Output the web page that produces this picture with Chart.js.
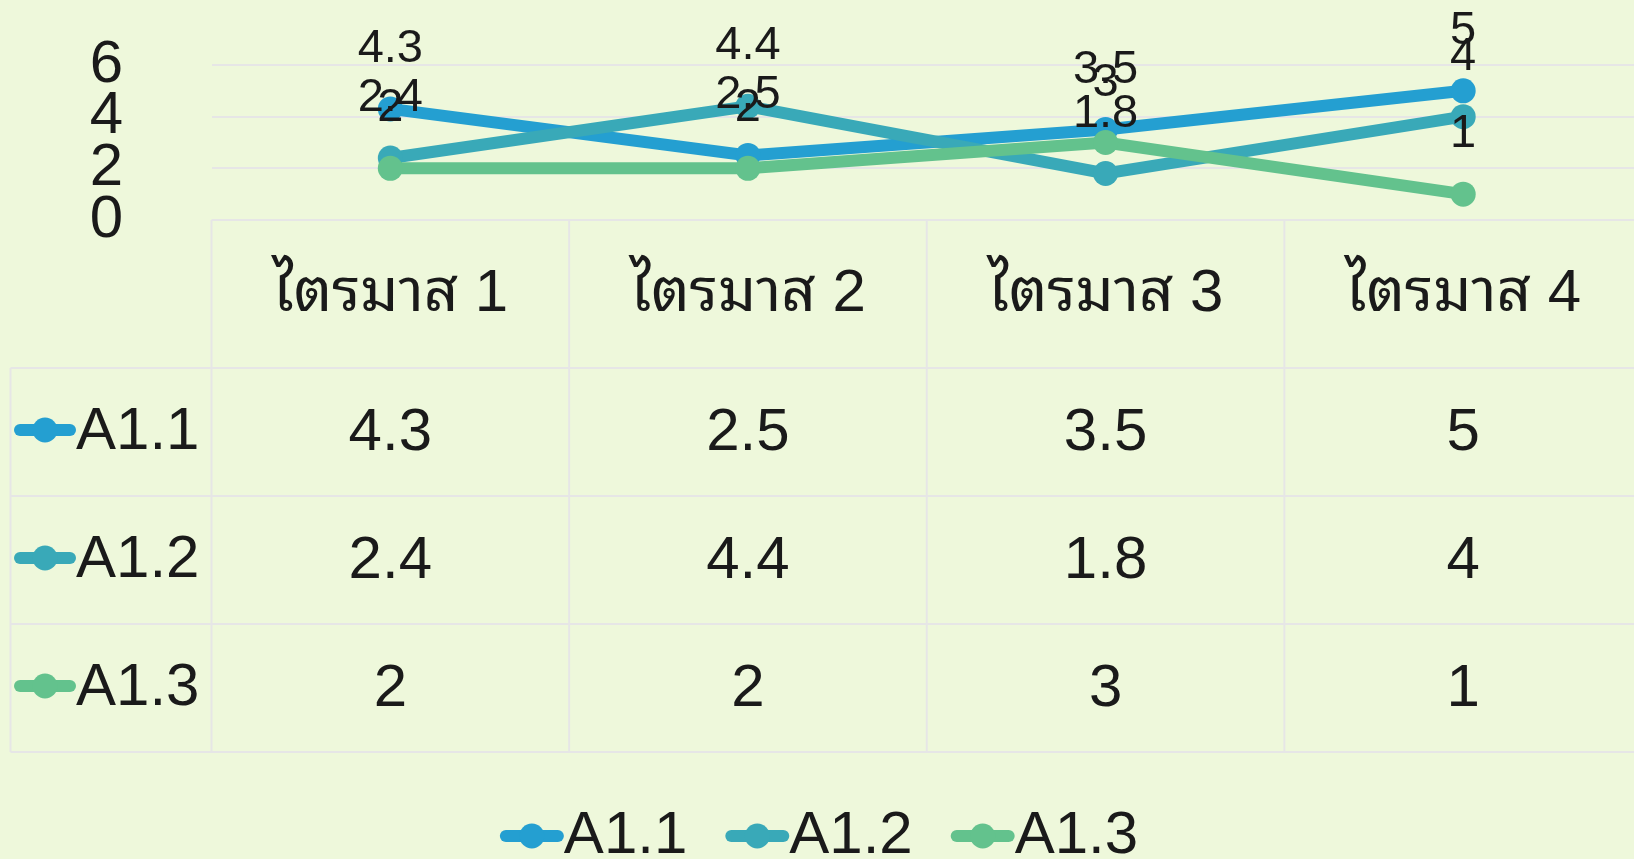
<!DOCTYPE html>
<html>
<head>
<meta charset="utf-8">
<script src="https://cdn.jsdelivr.net/npm/chart.js@4.4.1/dist/chart.umd.min.js"></script>
<style>
  html, body { margin: 0; padding: 0; background: #EEF8DB; overflow: hidden; width: 1634px; height: 859px; }
  #wrap { width: 1643px; height: 859px; position: relative; }
</style>
</head>
<body>
<div id="wrap"><canvas id="c"></canvas></div>
<script>
// ---- data ----
const categories = ['ไตรมาส 1', 'ไตรมาส 2', 'ไตรมาส 3', 'ไตรมาส 4'];
const seriesNames = ['A1.1', 'A1.2', 'A1.3'];
const seriesA11 = [4.3, 2.5, 3.5, 5];
const seriesA12 = [2.4, 4.4, 1.8, 4];
const seriesA13 = [2, 2, 3, 1];
const yTicks = [0, 2, 4, 6];

// ---- styles ----
const colors = ['#249FD1', '#39A9B8', '#63C28D'];
const FONT = '"Liberation Sans", Arial, "Noto Sans Thai Looped", Loma, Garuda, Waree, Umpush, "Tlwg Typo", Norasi, Kinnari, "Noto Sans Thai", "Noto Sans", sans-serif';
const TEXT = '#1a1a1a';
const GRID = '#E6E6E6';
const BG = '#EEF8DB';
const VIEW_W = 1634;

const seriesValues = [seriesA11, seriesA12, seriesA13];

const bgPlugin = {
  id: 'bg',
  beforeDraw(chart) {
    const ctx = chart.ctx;
    ctx.save();
    ctx.fillStyle = BG;
    ctx.fillRect(0, 0, chart.width, chart.height);
    ctx.restore();
  }
};

function drawIcon(ctx, x0, x1, y, color) {
  ctx.save();
  ctx.strokeStyle = color;
  ctx.lineWidth = 12;
  ctx.lineCap = 'round';
  ctx.beginPath();
  ctx.moveTo(x0 + 6, y);
  ctx.lineTo(x1 - 6, y);
  ctx.stroke();
  ctx.fillStyle = color;
  ctx.beginPath();
  ctx.arc((x0 + x1) / 2, y, 12.5, 0, Math.PI * 2);
  ctx.fill();
  ctx.restore();
}

const labelsPlugin = {
  id: 'dataLabels',
  afterDatasetsDraw(chart) {
    const ctx = chart.ctx;
    ctx.save();
    ctx.font = '47px ' + FONT;
    ctx.fillStyle = TEXT;
    ctx.textAlign = 'center';
    ctx.textBaseline = 'alphabetic';
    chart.data.datasets.forEach((ds, di) => {
      const meta = chart.getDatasetMeta(di);
      meta.data.forEach((pt, i) => {
        ctx.fillText(String(ds.data[i]), pt.x, pt.y - 47);
      });
    });
    ctx.restore();
  }
};

const tablePlugin = {
  id: 'dataTable',
  afterDraw(chart) {
    const ctx = chart.ctx;
    const xs = chart.scales.x;
    const area = chart.chartArea;
    const colW = xs.getPixelForValue(1) - xs.getPixelForValue(0);
    const tableLeft = 10.5;
    const top = area.bottom;
    const headerH = 148;
    const rowH = 128;
    const rows = seriesNames.length;
    const bottom = top + headerH + rowH * rows;
    const right = chart.width + 20;

    ctx.save();
    ctx.strokeStyle = GRID;
    ctx.lineWidth = 2;
    ctx.beginPath();
    ctx.moveTo(area.left, top); ctx.lineTo(right, top);
    for (let r = 0; r <= rows; r++) {
      const y = top + headerH + r * rowH;
      ctx.moveTo(tableLeft, y); ctx.lineTo(right, y);
    }
    ctx.moveTo(tableLeft, top + headerH); ctx.lineTo(tableLeft, bottom);
    for (let c = 0; c <= categories.length; c++) {
      const x = area.left + c * colW;
      ctx.moveTo(x, top); ctx.lineTo(x, bottom);
    }
    ctx.stroke();

    ctx.fillStyle = TEXT;
    ctx.font = '60px ' + FONT;
    ctx.textAlign = 'center';
    ctx.textBaseline = 'alphabetic';
    categories.forEach((cat, i) => {
      ctx.fillText(cat, xs.getPixelForValue(i), top + headerH / 2 + 17);
    });
    seriesNames.forEach((name, r) => {
      const cy = top + headerH + r * rowH + rowH / 2;
      drawIcon(ctx, 14, 76, cy - 2, colors[r]);
      ctx.fillStyle = TEXT;
      ctx.textAlign = 'left';
      ctx.fillText(name, 76, cy + 17);
      ctx.textAlign = 'center';
      seriesValues[r].forEach((v, i) => {
        ctx.fillText(String(v), xs.getPixelForValue(i), cy + 18);
      });
    });

    // legend
    ctx.font = '60px ' + FONT;
    const iconW = 64, gap = 38;
    const widths = seriesNames.map(n => iconW + ctx.measureText(n).width);
    const total = widths.reduce((a, b) => a + b, 0) + gap * (seriesNames.length - 1);
    let x = VIEW_W / 2 - total / 2 + 2;
    const ly = 836;
    seriesNames.forEach((n, i) => {
      drawIcon(ctx, x, x + iconW, ly, colors[i]);
      ctx.fillStyle = TEXT;
      ctx.textAlign = 'left';
      ctx.fillText(n, x + iconW, ly + 17);
      x += widths[i] + gap;
    });
    ctx.restore();
  }
};

const datasets = seriesNames.map((name, i) => ({
  label: name,
  data: seriesValues[i],
  borderColor: colors[i],
  backgroundColor: colors[i],
  pointBackgroundColor: colors[i],
  pointBorderWidth: 0,
  pointRadius: 12.5,
  pointHoverRadius: 12.5,
  borderWidth: 12,
  tension: 0,
  fill: false,
  clip: false,
  order: seriesNames.length - i
}));

new Chart(document.getElementById('c'), {
  type: 'line',
  data: { labels: categories, datasets },
  options: {
    responsive: true,
    maintainAspectRatio: false,
    animation: false,
    layout: { autoPadding: false, padding: { left: 0, top: 65, right: 1, bottom: 639 } },
    plugins: { legend: { display: false }, tooltip: { enabled: false }, title: { display: false } },
    scales: {
      x: { display: false, offset: true },
      y: {
        min: 0, max: 6,
        afterBuildTicks(scale) { scale.ticks = yTicks.map(v => ({ value: v })); },
        afterFit(scale) { scale.width = 211.5; scale.paddingTop = 0; scale.paddingBottom = 0; },
        ticks: { font: { size: 60, family: FONT }, color: TEXT, padding: 88.5, autoSkip: false },
        grid: { color: GRID, lineWidth: 2, drawTicks: false },
        border: { display: false }
      }
    }
  },
  plugins: [bgPlugin, labelsPlugin, tablePlugin]
});
</script>
</body>
</html>
